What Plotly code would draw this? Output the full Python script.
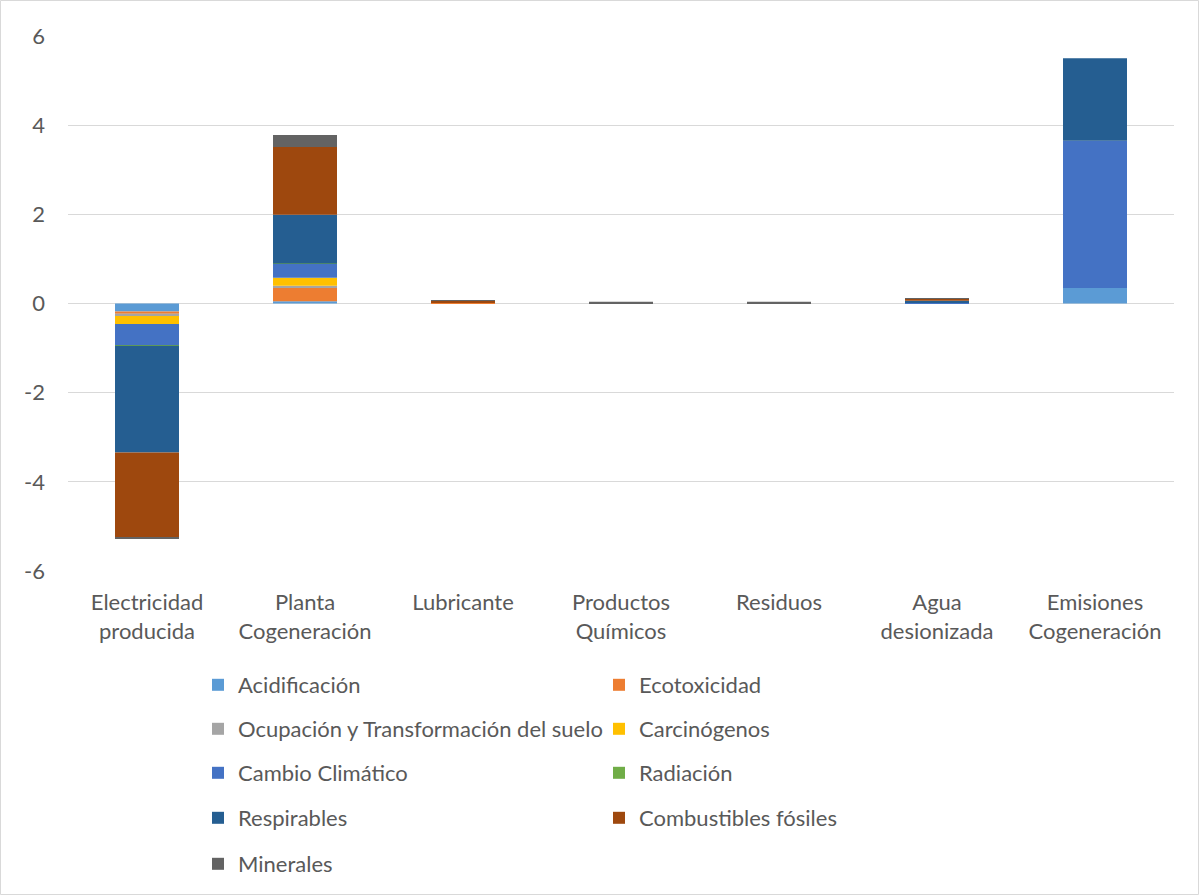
import plotly.graph_objects as go

categories = ["Electricidad<br>producida", "Planta<br>Cogeneración", "Lubricante",
              "Productos<br>Químicos", "Residuos", "Agua<br>desionizada", "Emisiones<br>Cogeneración"]

series_names = ["Acidificación", "Ecotoxicidad", "Ocupación y Transformación del suelo",
                "Carcinógenos", "Cambio Climático", "Radiación", "Respirables",
                "Combustibles fósiles", "Minerales"]

acidificacion = [-0.18, 0.05, 0.00, 0.00, 0.00, 0.00, 0.35]
ecotoxicidad = [-0.05, 0.30, 0.01, 0.00, 0.00, 0.00, 0.00]
ocupacion = [-0.05, 0.05, 0.00, 0.00, 0.00, 0.00, 0.00]
carcinogenos = [-0.18, 0.18, 0.00, 0.00, 0.00, 0.00, 0.00]
cambio_climatico = [-0.48, 0.31, 0.00, 0.00, 0.00, 0.03, 3.30]
radiacion = [-0.01, 0.01, 0.00, 0.00, 0.00, 0.00, 0.00]
respirables = [-2.39, 1.09, 0.00, 0.00, 0.00, 0.03, 1.85]
combustibles = [-1.90, 1.52, 0.05, 0.00, 0.00, 0.05, 0.00]
minerales = [-0.03, 0.27, 0.01, 0.04, 0.04, 0.01, 0.00]

colors = ["#5B9BD5", "#ED7D31", "#A5A5A5", "#FFC000", "#4472C4", "#70AD47",
          "#255E91", "#9E480E", "#636363"]

y_tickvals = [-6, -4, -2, 0, 2, 4, 6]
y_ticktext = ["-6", "-4", "-2", "0", "2", "4", "6"]

all_series = [acidificacion, ecotoxicidad, ocupacion, carcinogenos, cambio_climatico,
              radiacion, respirables, combustibles, minerales]

FONT = "Lato"
TXT = "#595959"
FS = 22
W, H = 1199, 895
ml, mr, mt, mb = 68, 25, 36, 324

fig = go.Figure()
legend_ids = ["legend", "legend2", "legend3", "legend4", "legend5"]
for i, (name, vals, col) in enumerate(zip(series_names, all_series, colors)):
    fig.add_trace(go.Bar(x=categories, y=vals, name=name, marker_color=col,
                         marker_line_width=0, legend=legend_ids[i // 2]))

row_y = [685, 729, 773, 818, 864]
layout_legends = {}
for k, lid in enumerate(legend_ids):
    layout_legends[lid] = dict(
        orientation="h", xref="container", yref="container",
        x=198 / W, y=1 - row_y[k] / H, xanchor="left", yanchor="middle",
        entrywidth=356, entrywidthmode="pixels",
        font=dict(family=FONT, size=FS, color=TXT),
        bgcolor="rgba(0,0,0,0)", traceorder="normal", itemclick=False,
    )

fig.update_layout(
    barmode="relative",
    bargap=0.595,
    width=W, height=H,
    margin=dict(l=ml, r=mr, t=mt, b=mb),
    paper_bgcolor="white", plot_bgcolor="white",
    font=dict(family=FONT, size=FS, color=TXT),
    showlegend=True,
    **layout_legends,
)
fig.update_xaxes(showgrid=False, showline=False, zeroline=False, ticks="",
                 ticklabelstandoff=16,
                 tickfont=dict(family=FONT, size=FS, color=TXT))
fig.update_yaxes(range=[-6, 6], tickvals=y_tickvals, ticktext=y_ticktext,
                 showgrid=True, gridcolor="#D9D9D9", gridwidth=1,
                 zeroline=True, zerolinecolor="#D9D9D9", zerolinewidth=1,
                 showline=False, ticks="", ticklabelstandoff=22,
                 tickfont=dict(family=FONT, size=FS, color=TXT))

pw = W - ml - mr
ph = H - mt - mb
fig.add_shape(type="rect", xref="paper", yref="paper",
              x0=(-ml + 0.5) / pw, x1=1 + (mr - 0.5) / pw,
              y0=(-mb + 0.5) / ph, y1=1 + (mt - 0.5) / ph,
              line=dict(color="#D9D9D9", width=1), fillcolor="rgba(0,0,0,0)", layer="below")

fig.write_html("out.html")
